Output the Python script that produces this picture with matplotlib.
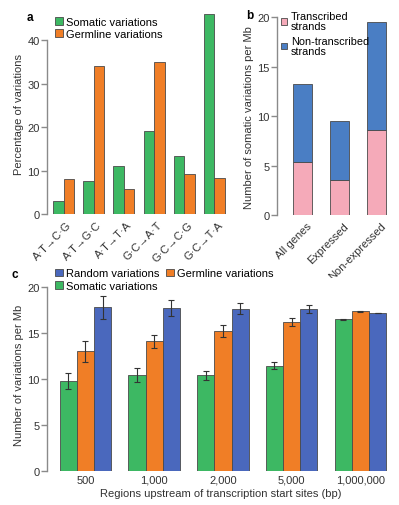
import numpy as np
import matplotlib
matplotlib.use("Agg")
import matplotlib.pyplot as plt

plt.rcParams['font.family'] = ['Liberation Sans', 'DejaVu Sans']
plt.rcParams['font.size'] = 7.5

# panel a data
subs = ['A·T→C·G', 'A·T→G·C', 'A·T→T·A', 'G·C→A·T', 'G·C→C·G', 'G·C→T·A']
somatic_pct = [3.1, 7.6, 11.1, 19.0, 13.4, 46.0]
germline_pct = [8.0, 34.1, 5.8, 35.0, 9.2, 8.2]

# panel b data
gene_sets = ['All genes', 'Expressed', 'Non-expressed']
transcribed = [5.4, 3.5, 8.6]
non_transcribed = [7.9, 6.0, 10.9]

# panel c data
regions = ['500', '1,000', '2,000', '5,000', '1,000,000']
somatic_c = [9.8, 10.45, 10.4, 11.45, 16.5]
somatic_err = [0.9, 0.75, 0.5, 0.35, 0.05]
germline_c = [13.0, 14.1, 15.2, 16.2, 17.4]
germline_err = [1.15, 0.75, 0.65, 0.4, 0.05]
random_c = [17.8, 17.75, 17.65, 17.6, 17.2]
random_err = [1.3, 0.85, 0.6, 0.45, 0.0]

green = '#3db863'
orange = '#f07e26'
blue_b = '#4a7ec4'
pink = '#f5aab9'
blue_c = '#4a68bd'
edge = '#4a4a4a'
grey = '#8a8a8a'
txt = '#333333'

W, H = 399, 506
fig = plt.figure(figsize=(W / 100, H / 100), dpi=100)


def box(l, t, r, b):
    return [l / W, 1 - b / H, (r - l) / W, (b - t) / H]


def style(ax, top):
    for s in ['top', 'right', 'bottom']:
        ax.spines[s].set_visible(False)
    ax.spines['left'].set_color(grey)
    ax.spines['left'].set_linewidth(1.0)
    ax.spines['left'].set_bounds(0, top)
    ax.spines['left'].set_position(('outward', 2))
    ax.tick_params(axis='y', colors=grey, labelcolor=txt, length=4, width=1.0, pad=1.5, labelsize=8)
    ax.tick_params(axis='x', length=0, labelcolor=txt)


# ---- a ----
axa = fig.add_axes(box(50, 15, 228, 215))
x = np.arange(len(subs))
w = 0.35
axa.bar(x - w / 2, somatic_pct, w, color=green, edgecolor=edge, linewidth=0.6, label='Somatic variations')
axa.bar(x + w / 2, germline_pct, w, color=orange, edgecolor=edge, linewidth=0.6, label='Germline variations')
axa.set_xlim(-0.45, 5.45)
axa.set_ylim(0, 46)
axa.set_yticks([0, 10, 20, 30, 40])
style(axa, 40)
axa.set_xticks(x + 0.1)
axa.set_xticklabels(subs, rotation=45, ha='right', va='top', rotation_mode='anchor', fontsize=8)
axa.tick_params(axis='x', pad=4)
axa.set_ylabel('Percentage of variations', color=txt, labelpad=2, fontsize=8)
axa.legend(loc='upper left', bbox_to_anchor=(0.028, 0.985), frameon=False, handlelength=0.7,
           handleheight=0.7, handletextpad=0.3, labelspacing=0.2, borderpad=0, borderaxespad=0,
           fontsize=8)
fig.text(27 / W, 1 - 18 / H, 'a', fontweight='bold', fontsize=8.5, va='center')

# ---- b ----
axb = fig.add_axes(box(280, 18.3, 390, 216))
xb = np.arange(len(gene_sets))
wb = 0.51
axb.bar(xb, transcribed, wb, color=pink, edgecolor=edge, linewidth=0.6, label='Transcribed\nstrands')
axb.bar(xb, non_transcribed, wb, bottom=transcribed, color=blue_b, edgecolor=edge, linewidth=0.6,
        label='Non-transcribed\nstrands')
axb.set_xlim(-0.61, 2.36)
axb.set_ylim(0, 20)
axb.set_yticks([0, 5, 10, 15, 20])
style(axb, 20)
axb.set_xticks(xb + 0.1)
axb.set_xticklabels(gene_sets, rotation=45, ha='right', va='top', rotation_mode='anchor', fontsize=8)
axb.tick_params(axis='x', pad=4)
axb.set_ylabel('Number of somatic variations per Mb', color=txt, labelpad=2, fontsize=8)
leg = axb.legend(loc='upper left', bbox_to_anchor=(0.01, 1.03), frameon=False, handlelength=0.55,
                 handleheight=0.55, handletextpad=0.35, labelspacing=0.4, borderpad=0, borderaxespad=0,
                 fontsize=7.8)
for t in leg.get_texts():
    t.set_linespacing(1.0)
fig.text(246 / W, 1 - 16 / H, 'b', fontweight='bold', fontsize=8.5, va='center')

# ---- c ----
axc = fig.add_axes(box(50, 279.1, 392, 471.7))
xc = np.arange(len(regions))
wc = 0.25
ekw = dict(ecolor='#333333', elinewidth=0.8, capsize=2.5, capthick=0.8)
bs = axc.bar(xc - wc, somatic_c, wc, yerr=somatic_err, color=green, edgecolor=edge, linewidth=0.6,
             error_kw=ekw, label='Somatic variations')
bg = axc.bar(xc, germline_c, wc, yerr=germline_err, color=orange, edgecolor=edge, linewidth=0.6,
             error_kw=ekw, label='Germline variations')
br = axc.bar(xc + wc, random_c, wc, yerr=random_err, color=blue_c, edgecolor=edge, linewidth=0.6,
             error_kw=ekw, label='Random variations')
axc.set_xlim(-0.516, 4.46)
axc.set_ylim(0, 21)
axc.set_yticks([0, 5, 10, 15, 20])
style(axc, 20)
axc.set_xticks(xc)
axc.set_xticklabels(regions, fontsize=8)
axc.tick_params(axis='x', pad=3)
axc.set_ylabel('Number of variations per Mb', color=txt, labelpad=2, fontsize=8)
axc.set_xlabel('Regions upstream of transcription start sites (bp)', color=txt, fontsize=8, labelpad=2)
axc.legend([br, bs, bg], ['Random variations', 'Somatic variations', 'Germline variations'],
           ncol=2, loc='upper left', bbox_to_anchor=(0.015, 1.05), frameon=False, handlelength=0.7,
           handleheight=0.7, handletextpad=0.3, labelspacing=0.2, columnspacing=0.6,
           borderpad=0, borderaxespad=0, fontsize=8)
fig.text(12 / W, 1 - 275 / H, 'c', fontweight='bold', fontsize=8.5, va='center')

fig.savefig('out.png', dpi=100, facecolor='white')
